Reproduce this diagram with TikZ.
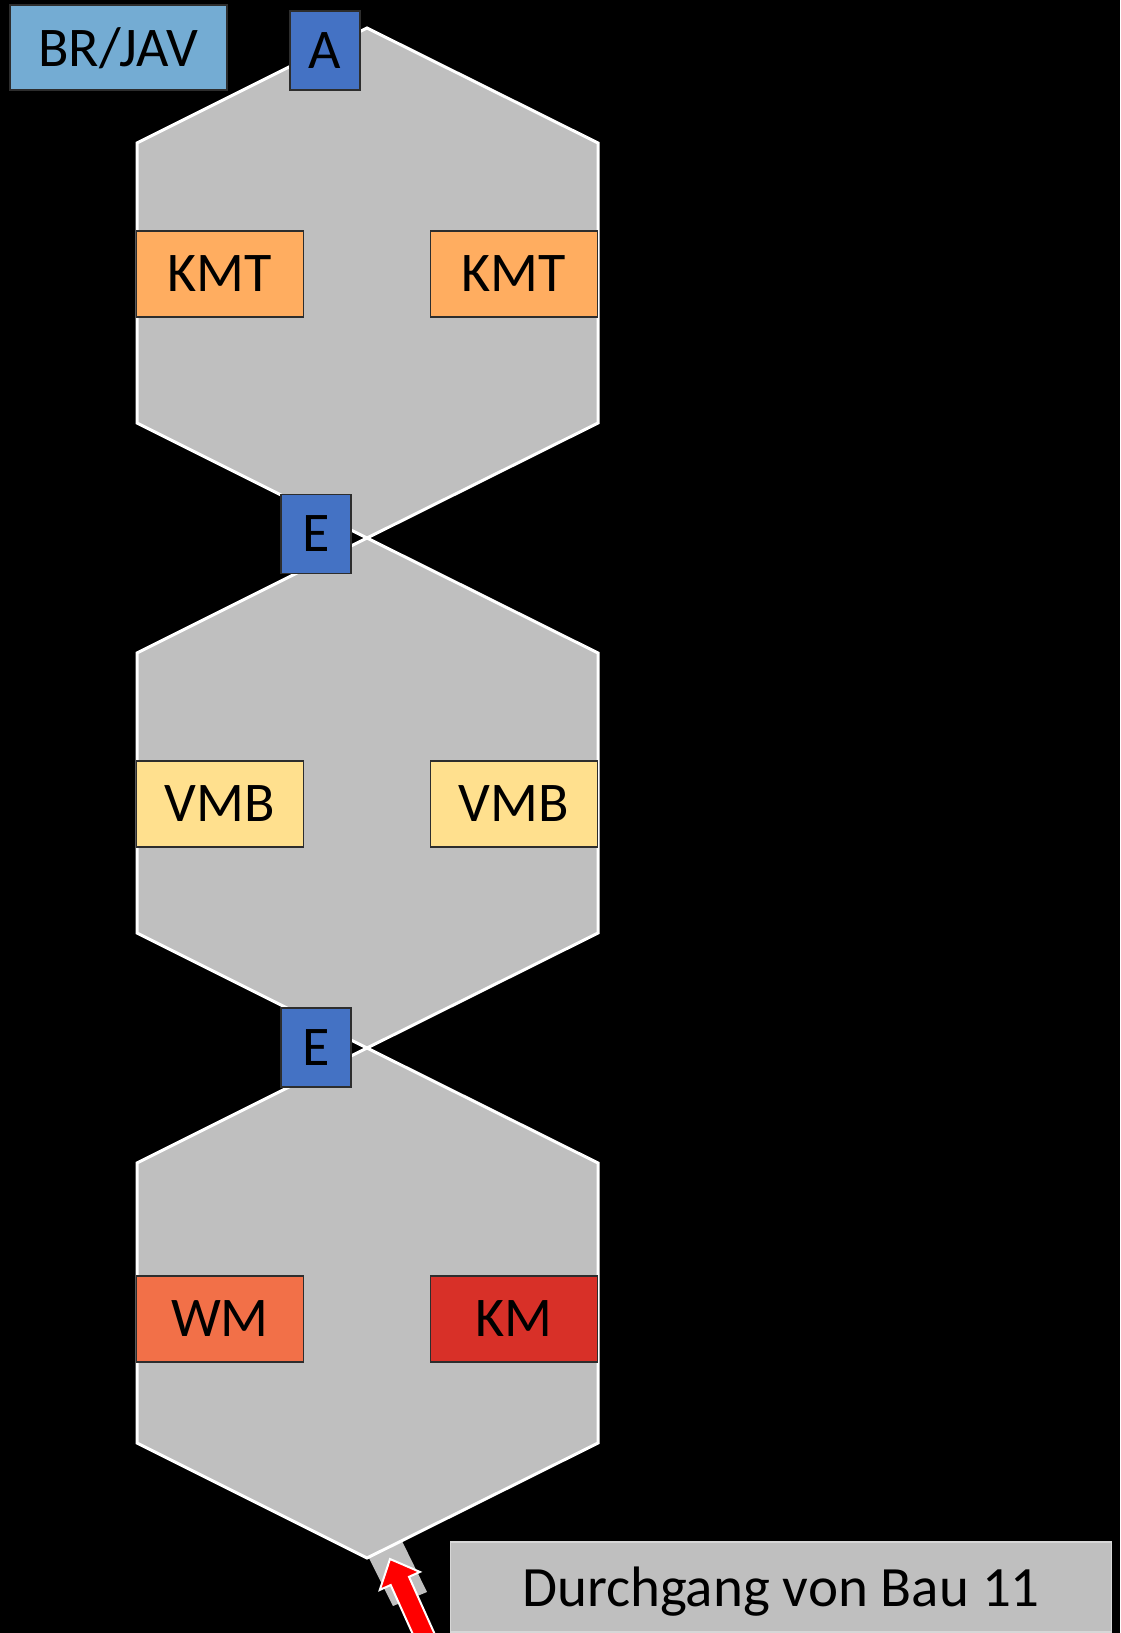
\documentclass[tikz,border=0pt]{standalone}
\usepackage{fontspec}
\setmainfont{Carlito}
\usetikzlibrary{positioning}

\definecolor{hexgrau}{RGB}{191,191,191}
\definecolor{rahmen}{RGB}{45,45,45}
\definecolor{brjav}{RGB}{116,172,211}
\definecolor{tuerblau}{RGB}{68,114,196}
\definecolor{kmtorange}{RGB}{255,173,96}
\definecolor{vmbgelb}{RGB}{255,224,142}
\definecolor{wmrot}{RGB}{242,112,72}
\definecolor{kmrot}{RGB}{216,48,40}

\tikzset{
    raum/.style={fill=hexgrau, draw=white, line width=1.5pt, line join=miter},
    feld/.style={draw=rahmen, line width=0.7pt, inner sep=0pt, text depth=0pt,
                 minimum width=83.5pt, minimum height=43pt,
                 font=\fontsize{28}{34}\selectfont},
    tuer/.style={feld, fill=tuerblau, minimum width=35pt, minimum height=39.5pt},
}

\begin{document}
\begin{tikzpicture}[x=0.5pt,y=-0.5pt]
                            % background, in pixels of the plan
                            \fill[black] (0,0) rectangle (1120,1633);
                            \clip (0,0) rectangle (1120,1633);

                            % passage below the last room
                            \fill[hexgrau] (368,1556) -- (402,1541) -- (427,1592) -- (393,1606) -- cycle;

                            % the three rooms
                            \foreach \t in {28,538,1048}
                            \draw[raum] (367,\t) -- (598,\t+115) -- (598,\t+395) -- (367,\t+510)
                                        -- (137,\t+395) -- (137,\t+115) -- cycle;

                            \node[feld, fill=brjav, minimum width=108.5pt, minimum height=42.5pt] (brjav) at (118.5,47.5) {BR/JAV};
                            \node[tuer] (ausgang) at (325,50.5) {A};
                            \node[tuer] (eingang1) at (316,534) {E};
                            \node[tuer] (eingang2) at (316,1047.5) {E};

                            \node[feld, fill=kmtorange] (kmtl) at (220,274) {KMT};
                            \node[feld, fill=kmtorange] (kmtr) at (514,274) {KMT};
                            \node[feld, fill=vmbgelb] (vmbl) at (220,804) {VMB};
                            \node[feld, fill=vmbgelb] (vmbr) at (514,804) {VMB};
                            \node[feld, fill=wmrot] (wm) at (220,1319) {WM};
                            \node[feld, fill=kmrot] (km) at (514,1319) {KM};

                            \node[feld, fill=hexgrau, draw={rgb,255:red,215;green,215;blue,215},
                                  minimum width=330.5pt, minimum height=45pt,
                                  font=\fontsize{28.5}{34}\selectfont] (durchgang) at (781,1587) {Durchgang von Bau 11};

                            % red arrow into the passage
                            \fill[red, draw=white, line width=1pt, line join=miter]
                                (390,1559) -- (419.9,1571.9) -- (409,1576.8) -- (440.1,1646.1)
                                -- (421.9,1654.3) -- (390.7,1585) -- (379.8,1589.9) -- cycle;
                        \end{tikzpicture}
\end{document}
